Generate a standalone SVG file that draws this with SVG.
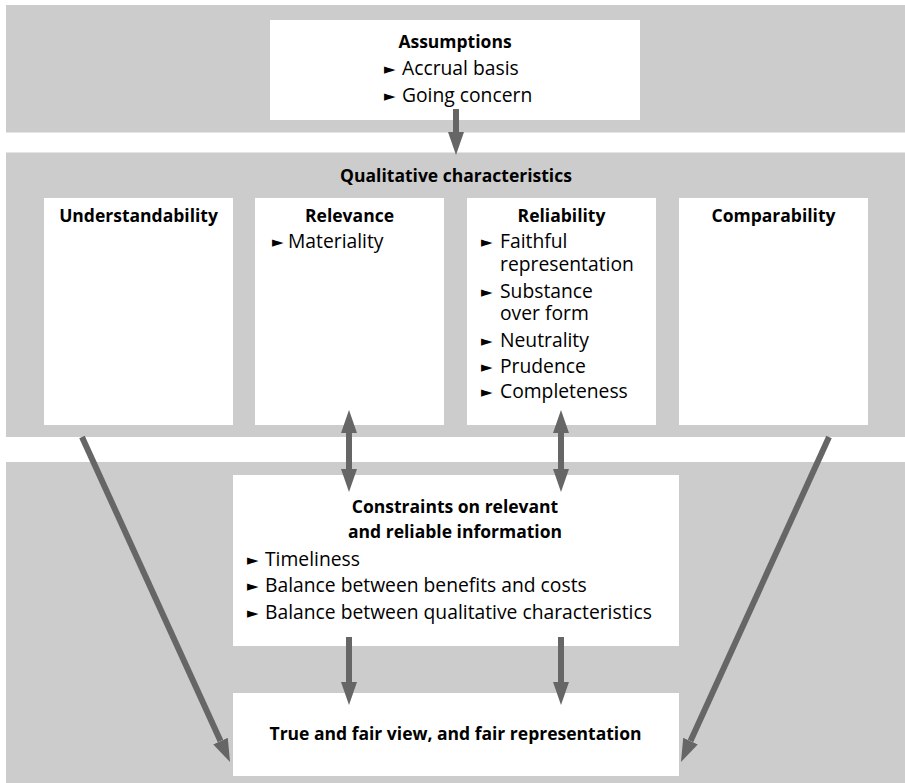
<svg xmlns="http://www.w3.org/2000/svg" width="905" height="783" viewBox="0 0 905 783">
<style>
.band{fill:#cccccc}
.box{fill:#ffffff}
text{font-family:"Open Sans","Noto Sans","Liberation Sans",sans-serif;fill:#000}
.h{font-weight:bold;font-size:17.5px;text-anchor:middle}
.t{font-size:19.3px}
.b{font-family:"DejaVu Sans",sans-serif;font-size:15px}
.c{stroke:#666666;stroke-width:6;fill:none}
</style>
<defs>
<marker id="ah" markerUnits="userSpaceOnUse" markerWidth="23" markerHeight="16" viewBox="0 0 23 16" refX="0" refY="8" orient="auto-start-reverse">
<path d="M0,0 L23,8 L0,16 Z" fill="#666666"/>
</marker>
</defs>
<g id="bands">
<rect class="band" x="6" y="5" width="899" height="127.5"/>
<rect class="band" x="6" y="152.5" width="899" height="284.5"/>
<rect class="band" x="6" y="462" width="899" height="321"/>
</g>
<g id="assumptions">
<rect class="box" x="270" y="20" width="370" height="100"/>
<text class="h" x="455" y="48">Assumptions</text>
<text class="b" x="384" y="74">►</text><text class="t" x="402" y="75">Accrual basis</text>
<text class="b" x="384" y="101">►</text><text class="t" x="402" y="102">Going concern</text>
</g>
<g id="qualitative">
<text class="h" x="456" y="182">Qualitative characteristics</text>
</g>
<g id="understandability">
<rect class="box" x="44" y="198" width="189" height="227"/>
<text class="h" x="138.5" y="222">Understandability</text>
</g>
<g id="relevance">
<rect class="box" x="255" y="198" width="189" height="227"/>
<text class="h" x="349.5" y="222">Relevance</text>
<text class="b" x="272" y="247">►</text><text class="t" x="288" y="248">Materiality</text>
</g>
<g id="reliability">
<rect class="box" x="467" y="198" width="189" height="227"/>
<text class="h" x="561.5" y="222">Reliability</text>
<text class="b" x="481" y="247">►</text><text class="t" x="500" y="248">Faithful<tspan x="500" dy="23">representation</tspan></text>
<text class="b" x="481" y="297">►</text><text class="t" x="500" y="298">Substance<tspan x="500" dy="22">over form</tspan></text>
<text class="b" x="481" y="346">►</text><text class="t" x="500" y="347">Neutrality</text>
<text class="b" x="481" y="372">►</text><text class="t" x="500" y="373">Prudence</text>
<text class="b" x="481" y="397">►</text><text class="t" x="500" y="398">Completeness</text>
</g>
<g id="comparability">
<rect class="box" x="679" y="198" width="189" height="227"/>
<text class="h" x="773.5" y="222">Comparability</text>
</g>
<g id="constraints">
<rect class="box" x="233" y="475" width="446" height="171"/>
<text class="h" x="455" y="513">Constraints on relevant<tspan x="455" dy="25">and reliable information</tspan></text>
<text class="b" x="247" y="565">►</text><text class="t" x="265" y="566">Timeliness</text>
<text class="b" x="247" y="591">►</text><text class="t" x="265" y="592">Balance between benefits and costs</text>
<text class="b" x="247" y="618">►</text><text class="t" x="265" y="619">Balance between qualitative characteristics</text>
</g>
<g id="true-fair">
<rect class="box" x="233" y="693" width="446" height="83"/>
<text class="h" x="455.5" y="740">True and fair view, and fair representation</text>
</g>
<g id="connectors">
<line class="c" x1="456" y1="109" x2="456" y2="132" marker-end="url(#ah)"/>
<line class="c" x1="349" y1="433" x2="349" y2="469" marker-start="url(#ah)" marker-end="url(#ah)"/>
<line class="c" x1="561" y1="433" x2="561" y2="469" marker-start="url(#ah)" marker-end="url(#ah)"/>
<line class="c" x1="349" y1="637" x2="349" y2="682" marker-end="url(#ah)"/>
<line class="c" x1="561" y1="637" x2="561" y2="682" marker-end="url(#ah)"/>
<line class="c" x1="82" y1="437" x2="220.5" y2="741.1" marker-end="url(#ah)"/>
<line class="c" x1="829" y1="437" x2="690.5" y2="741.1" marker-end="url(#ah)"/>
</g>
</svg>
